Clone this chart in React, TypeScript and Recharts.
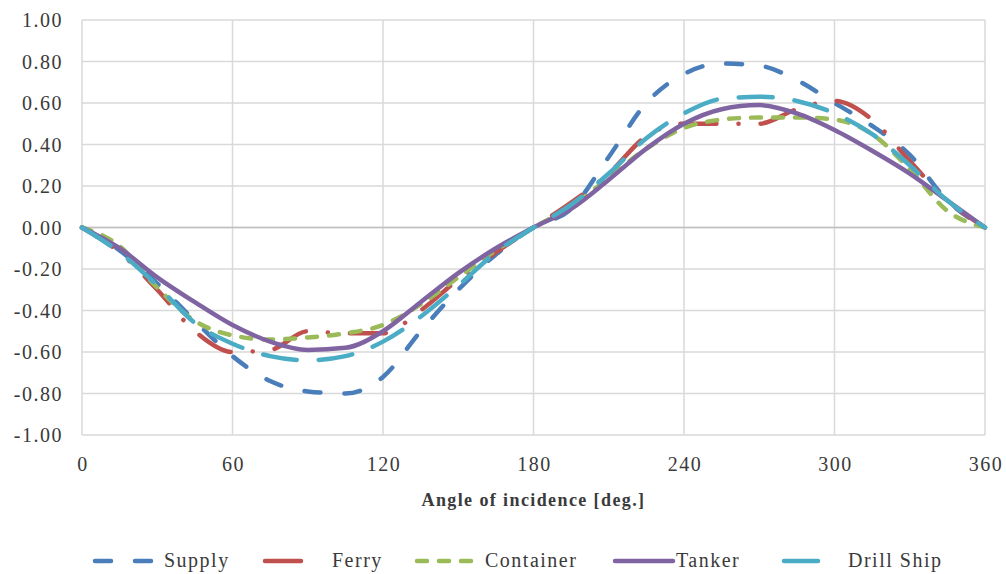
import { LineChart, Line, XAxis, YAxis, CartesianGrid, ReferenceLine, Label } from 'recharts';

// Angle of incidence (deg) and the five ship series
const angles = [0, 15, 30, 45, 60, 75, 90, 105, 120, 135, 150, 165, 180, 195, 210, 225, 240, 255, 270, 285, 300, 315, 330, 345, 360];
const supply = [0, -0.11, -0.27, -0.45, -0.62, -0.74, -0.79, -0.8, -0.72, -0.5, -0.3, -0.13, 0, 0.09, 0.34, 0.6, 0.74, 0.79, 0.78, 0.71, 0.6, 0.49, 0.35, 0.13, 0];
const ferry = [0, -0.12, -0.3, -0.5, -0.6, -0.59, -0.5, -0.51, -0.51, -0.4, -0.25, -0.12, 0, 0.12, 0.26, 0.44, 0.5, 0.5, 0.5, 0.57, 0.61, 0.52, 0.32, 0.13, 0];
const container = [0, -0.09, -0.29, -0.45, -0.52, -0.54, -0.53, -0.51, -0.47, -0.37, -0.24, -0.11, 0, 0.1, 0.24, 0.38, 0.48, 0.52, 0.53, 0.53, 0.52, 0.45, 0.28, 0.08, 0];
const tanker = [0, -0.1, -0.24, -0.36, -0.47, -0.55, -0.59, -0.58, -0.5, -0.36, -0.22, -0.1, 0, 0.09, 0.23, 0.38, 0.5, 0.57, 0.59, 0.55, 0.47, 0.37, 0.26, 0.13, 0];
const drillShip = [0, -0.12, -0.28, -0.46, -0.56, -0.62, -0.64, -0.62, -0.55, -0.43, -0.28, -0.12, 0, 0.11, 0.26, 0.43, 0.55, 0.62, 0.63, 0.61, 0.55, 0.45, 0.3, 0.13, 0];

const xTicks = [0, 60, 120, 180, 240, 300, 360];
const yTicks = [-1, -0.8, -0.6, -0.4, -0.2, 0, 0.2, 0.4, 0.6, 0.8, 1];

const FONT = '"Liberation Serif", "Times New Roman", serif';
const TEXT = '#3a3a3a';

const SERIES = [
  { key: 'supply', name: 'Supply', color: '#4a7ebb', dash: '16 24', lineX: 93, lineW: 58, textX: 164 },
  { key: 'ferry', name: 'Ferry', color: '#c0504d', dash: '36 22 0.1 22', lineX: 263, lineW: 42, textX: 332 },
  { key: 'container', name: 'Container', color: '#9bbb59', dash: '10 12', lineX: 415, lineW: 58, textX: 485 },
  { key: 'tanker', name: 'Tanker', color: '#8064a2', dash: undefined, lineX: 613, lineW: 60, textX: 676 },
  { key: 'drillShip', name: 'Drill Ship', color: '#4bacc6', dash: '34 22', lineX: 782, lineW: 38, textX: 848 },
];

const data = angles.map((a, i) => ({
  angle: a,
  supply: supply[i],
  ferry: ferry[i],
  container: container[i],
  tanker: tanker[i],
  drillShip: drillShip[i],
}));

const textStyle = { fontFamily: FONT, fontSize: 20, fill: TEXT, letterSpacing: 1.5 };

const YTick = (props: any) => {
  const { x, y, payload } = props;
  return (
    <text x={x + 1} y={y + 7} textAnchor="end" style={textStyle}>
      {payload.value.toFixed(2)}
    </text>
  );
};

const XTick = (props: any) => {
  const { x, y, payload } = props;
  return (
    <text x={x + 1} y={y + 16} textAnchor="middle" style={textStyle}>
      {payload.value}
    </text>
  );
};

const AxisTitle = (props: any) => {
  const vb = props.viewBox;
  return (
    <text
      x={vb.x + vb.width / 2}
      y={vb.y + 71}
      textAnchor="middle"
      style={{ ...textStyle, fontSize: 18, fontWeight: 'bold', letterSpacing: 1.4 }}
    >
      Angle of incidence [deg.]
    </text>
  );
};

export default function App() {
  return (
    <div style={{ position: 'absolute', left: 0, top: 0, width: 1006, height: 574, background: '#fff', fontFamily: FONT }}>
      <LineChart width={1006} height={574} data={data} margin={{ top: 20, right: 21, left: 0, bottom: 59 }}>
        <CartesianGrid stroke="#d9d9d9" strokeWidth={1.5} horizontalValues={yTicks} verticalValues={xTicks} />
        <XAxis
          dataKey="angle"
          type="number"
          domain={[0, 360]}
          ticks={xTicks}
          axisLine={false}
          tickLine={false}
          tickMargin={14}
          height={80}
          tick={<XTick />}
          interval={0}
        >
          <Label content={<AxisTitle />} />
        </XAxis>
        <YAxis
          type="number"
          domain={[-1, 1]}
          ticks={yTicks}
          axisLine={false}
          tickLine={false}
          tickMargin={14}
          width={82}
          tick={<YTick />}
          interval={0}
        />
        <ReferenceLine y={0} stroke="#bfbfbf" strokeWidth={1.5} />
        {SERIES.map((s) => (
          <Line
            key={s.key}
            type="monotone"
            dataKey={s.key}
            name={s.name}
            stroke={s.color}
            strokeWidth={4.5}
            strokeDasharray={s.dash}
            strokeLinecap="round"
            dot={false}
            activeDot={false}
            isAnimationActive={false}
          />
        ))}
      </LineChart>
      <svg width={1006} height={40} style={{ position: 'absolute', left: 0, top: 542 }}>
        {SERIES.map((s) => (
          <g key={s.key}>
            <line
              x1={s.lineX + 2}
              x2={s.lineX + s.lineW}
              y1={19}
              y2={19}
              stroke={s.color}
              strokeWidth={4.5}
              strokeDasharray={s.dash}
              strokeLinecap="round"
            />
            <text x={s.textX} y={25} style={textStyle}>
              {s.name}
            </text>
          </g>
        ))}
      </svg>
    </div>
  );
}
